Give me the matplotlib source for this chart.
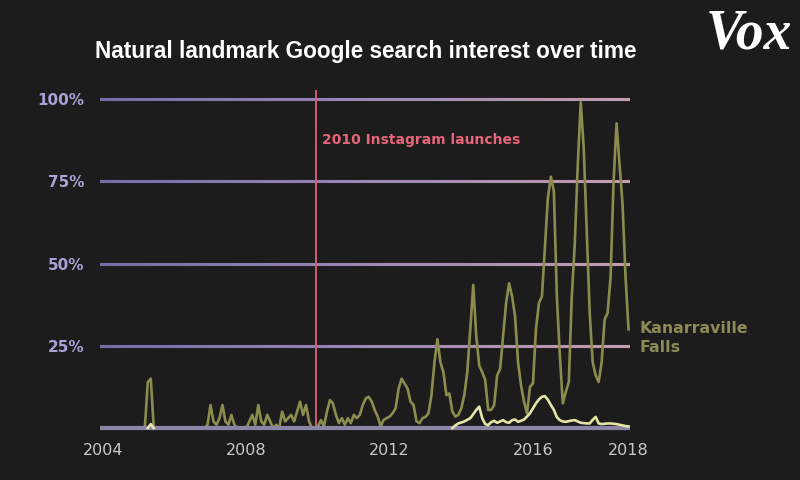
import numpy as np
import matplotlib
matplotlib.use("Agg")
import matplotlib.pyplot as plt
from matplotlib.collections import LineCollection
from matplotlib.colors import LinearSegmentedColormap

# ---------------- data (monthly, Jan 2004 .. Sep 2018) ----------------
start_year = 2004
kanarraville = [
    0, 0, 0, 0, 0, 0, 0, 0, 0, 0, 0, 0, 0, 0, 0, 14, 15, 0, 0, 0,          # 0-19
    0, 0, 0, 0, 0, 0, 0, 0, 0, 0, 0, 0, 0, 0, 0, 1, 7, 2, 1, 3,            # 20-39
    7, 2, 1, 4, 1, 0, 0, 0, 0, 2, 4, 1, 7, 2, 1, 4, 2, 0, 1, 0,            # 40-59
    5, 2, 3, 4, 2, 5, 8, 4, 7, 2, 0, 0, 0.5, 2.4, 0.5, 5, 8.5, 7.5, 4, 1.5,  # 60-79
    3, 1, 3, 1.5, 4, 3, 4, 7, 9, 9.5, 8, 5.5, 3.5, 0.5, 2.5, 3, 3.5, 4.5, 6, 12,  # 80-99
    15, 13.5, 12, 8, 7, 2, 1.5, 3, 3.4, 4.5, 10, 20, 27, 20, 17, 10, 10.5, 5, 3.5, 4,  # 100-119
    6, 10, 17, 30, 43.5, 28, 19, 17, 14.6, 5.5, 5.5, 7, 16, 18, 28, 38, 44, 40, 34, 20,  # 120-139
    13, 8, 4.5, 12.5, 13.6, 30, 38, 40, 55, 70, 76.4, 72, 40, 22, 7.5, 11, 14, 40, 56, 80,  # 140-159
    99, 85, 60, 35, 20, 16, 14, 20, 33, 35, 46, 75, 92.6, 80, 68, 46, 30,  # 160-176
]
# second (brighter) series: only the visible stretches are given
second_series = [None] * 15 + [0, 1.2, 0] + [None] * 99
second_series += [
    0, 0.8, 1.4, 1.7, 2, 2.5, 3, 4.2, 5.5, 6.5, 3, 1.2, 0.9, 1.8, 2.2, 1.6, 2, 2.4, 1.8, 1.6,  # 117-136
    2.4, 2.6, 1.9, 2.2, 2.6, 3.5, 4.5, 6, 7.5, 8.7, 9.5, 9.7, 8.6, 7, 5.5, 3.3, 2.4, 2, 1.9, 2.1,  # 137-156
    2.3, 2.4, 2, 1.6, 1.5, 1.4, 1.4, 2.5, 3.4, 1.4, 1.2, 1.3, 1.4, 1.4, 1.3, 1.2, 1, 0.8, 0.6, 0.5,  # 157-176
]
grid_levels = [25, 50, 75, 100]
y_labels = ["25%", "50%", "75%", "100%"]
x_tick_years = [2004, 2008, 2012, 2016]
x_tick_labels = ["2004", "2008", "2012", "2016", "2018"]
event_year = 2010
event_label = "2010 Instagram launches"
series_label = "Kanarraville\nFalls"
title = "Natural landmark Google search interest over time"

# ---------------- figure ----------------
bg = "#1c1c1c"
fig = plt.figure(figsize=(8, 4.8), dpi=100, facecolor=bg)
ax = fig.add_axes([0.125, 0.1, 0.6625, 0.702])
ax.set_facecolor(bg)

t = start_year + np.arange(len(kanarraville)) / 12.0
t2 = start_year + np.arange(len(second_series)) / 12.0
s2 = np.array([np.nan if v is None else v for v in second_series], dtype=float)
x_end = t[-1]

x0, x1 = 2003.916, 2018.708
ax.set_xlim(x0, x1)
ax.set_ylim(-1.2, 101.2)

# gradient grid lines (lavender -> pink)
cmap = LinearSegmentedColormap.from_list("g", ["#736da8", "#9a88b6", "#c49cae"])
xs = np.linspace(x0, x1 + 0.05, 120)
for lvl in grid_levels:
    pts = np.column_stack([xs, np.full_like(xs, lvl)])
    segs = np.stack([pts[:-1], pts[1:]], axis=1)
    lc = LineCollection(segs, cmap=cmap, linewidths=2.2, zorder=1,
                        capstyle="projecting")
    lc.set_array(np.linspace(0, 1, len(segs)))
    ax.add_collection(lc)

# event line
ax.plot([event_year - 0.05, event_year - 0.05], [0, 102.5], color="#d85a6c",
        lw=1.4, zorder=2, clip_on=False)
ax.text(event_year + 0.12, 87.5, event_label, color="#e8647a", fontsize=10,
        fontweight="bold", family="DejaVu Sans", va="center", ha="left")

# series
ax.plot(t, kanarraville, color="#8c8c4e", lw=1.9, zorder=3)
# baseline
ax.plot([x0, x1 + 0.05], [0, 0], color="#8a84a6", lw=3, zorder=3.5,
        solid_capstyle="butt")
ax.plot(t2, s2, color="#e4e4a6", lw=1.9, zorder=4)

ax.text(x_end + 0.32, 27.3, series_label, color="#8c8c56", fontsize=11.3,
        fontweight="bold", family="DejaVu Sans", va="center", ha="left",
        linespacing=1.3)

# ticks
ax.set_yticks(grid_levels)
ax.set_yticklabels(y_labels, color="#a9a2d6", fontsize=11, fontweight="bold")
ax.set_xticks(x_tick_years + [x_end])
ax.set_xticklabels(x_tick_labels, color="#c9c9c9", fontsize=11.5)
ax.tick_params(axis="both", length=0)
ax.tick_params(axis="y", pad=11)
ax.tick_params(axis="x", pad=8)
for s in ax.spines.values():
    s.set_visible(False)

# title and logo
fig.text(0.119, 0.893, title, color="white", fontsize=16.3, fontweight="bold",
         family="Liberation Sans", va="center", ha="left")
fig.text(0.99, 0.928, "Vox", color="white", fontsize=40, fontweight="bold",
         style="italic", family="Liberation Serif", va="center", ha="right")

fig.savefig("out.png", dpi=100, facecolor=bg)
